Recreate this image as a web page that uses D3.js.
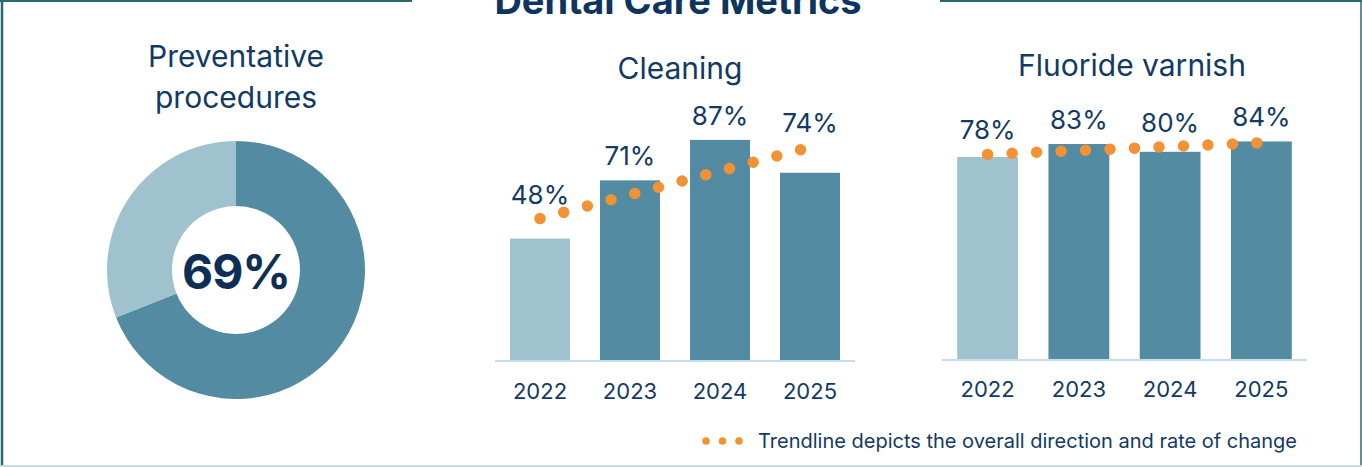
<!DOCTYPE html>
<html lang="en">
<head>
<meta charset="UTF-8">
<title>Dental Care Metrics</title>
<script src="https://d3js.org/d3.v7.min.js"></script>
<style>
  body { margin: 0; background: #fff; }
  svg { display: block; font-family: Inter, "Noto Sans", sans-serif; }
</style>
</head>
<body>
<svg width="1362" height="467"></svg>
<script>
// data
const years = ["2022", "2023", "2024", "2025"];
const cleaning = [48, 71, 87, 74];
const fluoride = [78, 83, 80, 84];
const preventative = [69, 31];

const navy = "#123a63";
const darkBar = "#538ba2";
const lightBar = "#a0c2ce";
const orange = "#f39234";

const svg = d3.select("svg");

// frame
const frame = svg.append("g").attr("fill", "none");
frame.append("line").attr("x1", 2).attr("x2", 2).attr("y1", 0).attr("y2", 467)
  .attr("stroke", "#2a6a6a").attr("stroke-width", 2.5);
frame.append("line").attr("x1", 1361).attr("x2", 1361).attr("y1", 0).attr("y2", 467)
  .attr("stroke", "#2a6a6a").attr("stroke-width", 1.5);
frame.append("line").attr("x1", 0).attr("x2", 412).attr("y1", 1).attr("y2", 1)
  .attr("stroke", "#2a6a6a").attr("stroke-width", 2);
frame.append("line").attr("x1", 940).attr("x2", 1362).attr("y1", 1).attr("y2", 1)
  .attr("stroke", "#2a6a6a").attr("stroke-width", 2);
frame.append("line").attr("x1", 0).attr("x2", 1362).attr("y1", 466).attr("y2", 466)
  .attr("stroke", "#c9dcdc").attr("stroke-width", 2);

// main title, cut by the top edge as in the source
svg.append("text")
  .attr("x", 678).attr("y", 14)
  .attr("text-anchor", "middle")
  .attr("font-size", 38).attr("font-weight", 700)
  .attr("fill", "#0e3460")
  .text("Dental Care Metrics");

// donut
const donut = svg.append("g").attr("transform", "translate(236,270)");
const pie = d3.pie().sort(null).value(d => d);
const arc = d3.arc().innerRadius(64).outerRadius(129);
donut.selectAll("path")
  .data(pie(preventative))
  .join("path")
  .attr("d", arc)
  .attr("fill", (d, i) => i === 0 ? darkBar : lightBar);
donut.append("text")
  .attr("y", 19)
  .attr("text-anchor", "middle")
  .attr("font-size", 48).attr("font-weight", 700)
  .attr("letter-spacing", -1)
  .attr("fill", "#0d2f57")
  .text(preventative[0] + "%");

const ptitle = svg.append("text")
  .attr("text-anchor", "middle")
  .attr("font-size", 30)
  .attr("fill", navy);
ptitle.append("tspan").attr("x", 236).attr("y", 67).text("Preventative");
ptitle.append("tspan").attr("x", 236).attr("y", 108).text("procedures");

// bar chart with trendline
function barChart(title, values, x0, x1, base, pxPerPct, titleX, titleY, yearY) {
  const x = d3.scaleBand().domain(years).range([x0, x1])
    .paddingInner(1 / 3).paddingOuter(1 / 6);
  const y = d3.scaleLinear().domain([0, 100]).range([base, base - pxPerPct * 100]);
  const g = svg.append("g");

  g.append("text")
    .attr("x", titleX).attr("y", titleY)
    .attr("text-anchor", "middle")
    .attr("font-size", 30)
    .attr("fill", navy)
    .text(title);

  g.selectAll("rect")
    .data(values)
    .join("rect")
    .attr("x", (d, i) => x(years[i]))
    .attr("width", x.bandwidth())
    .attr("y", d => y(d))
    .attr("height", d => base - y(d))
    .attr("fill", (d, i) => i === 0 ? lightBar : darkBar);

  g.append("line")
    .attr("x1", x0).attr("x2", x1)
    .attr("y1", base + 1).attr("y2", base + 1)
    .attr("stroke", "#c6dcef").attr("stroke-width", 2);

  // linear regression trend
  const xs = values.map((d, i) => i + 1);
  const mx = d3.mean(xs), my = d3.mean(values);
  const slope = d3.sum(xs, (v, i) => (v - mx) * (values[i] - my)) / d3.sum(xs, v => (v - mx) ** 2);
  const trend = t => my + slope * (t - mx);
  const cx = i => x(years[i]) + x.bandwidth() / 2;

  g.append("path")
    .attr("d", d3.line()([[cx(0), y(trend(1))], [cx(3), y(trend(4))]]))
    .attr("fill", "none")
    .attr("stroke", orange)
    .attr("stroke-width", 11.5)
    .attr("stroke-linecap", "round")
    .attr("stroke-dasharray", "0 24.5");

  g.selectAll(".val")
    .data(values)
    .join("text")
    .attr("class", "val")
    .attr("x", (d, i) => cx(i))
    .attr("y", (d, i) => Math.min(y(d), y(trend(i + 1))) - 15)
    .attr("text-anchor", "middle")
    .attr("font-size", 26)
    .attr("fill", navy)
    .text(d => d + "%");

  g.selectAll(".yr")
    .data(years)
    .join("text")
    .attr("class", "yr")
    .attr("x", d => x(d) + x.bandwidth() / 2)
    .attr("y", yearY)
    .attr("text-anchor", "middle")
    .attr("font-size", 22)
    .attr("fill", navy)
    .text(d => d);
}

barChart("Cleaning", cleaning, 495, 855, 360, 2.53, 680, 79, 399);
barChart("Fluoride varnish", fluoride, 942, 1307, 359, 2.59, 1132, 76, 397);

// legend
svg.append("g").selectAll("circle")
  .data([706, 722.5, 739])
  .join("circle")
  .attr("cx", d => d).attr("cy", 441)
  .attr("r", 3.8)
  .attr("fill", orange);
svg.append("text")
  .attr("x", 758).attr("y", 448)
  .attr("font-size", 20)
  .attr("fill", navy)
  .text("Trendline depicts the overall direction and rate of change");
</script>
</body>
</html>
